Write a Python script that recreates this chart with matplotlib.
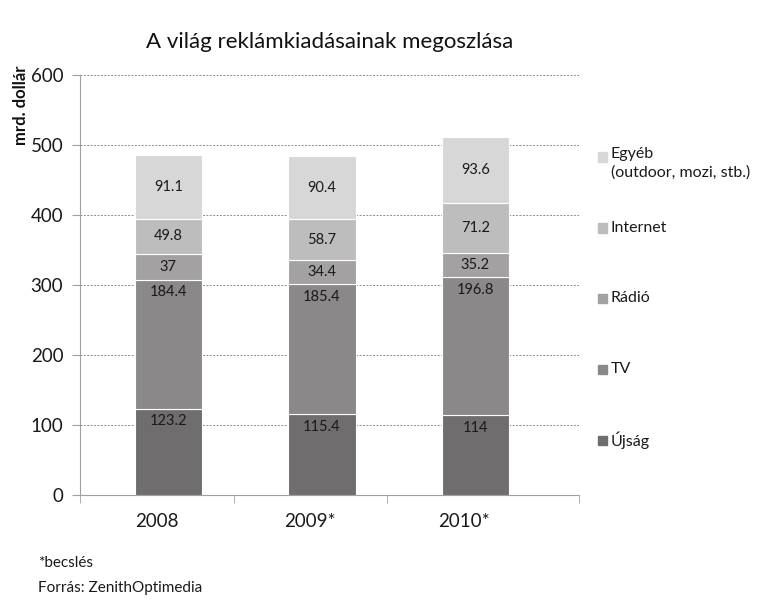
import numpy as np
import matplotlib
matplotlib.use("Agg")
import matplotlib.pyplot as plt

plt.rcParams['font.family'] = ['Lato', 'DejaVu Sans']

evek = ["2008", "2009*", "2010*"]
sorozatok = ["Újság", "TV", "Rádió", "Internet", "Egyéb\n(outdoor, mozi, stb.)"]
ujsag = [123.2, 115.4, 114]
tv = [184.4, 185.4, 196.8]
radio = [37, 34.4, 35.2]
internet = [49.8, 58.7, 71.2]
egyeb = [91.1, 90.4, 93.6]
ertekek = [ujsag, tv, radio, internet, egyeb]
szinek = ["#6f6d6d", "#8a8888", "#a3a1a1", "#bebdbd", "#d7d7d7"]

fig = plt.figure(figsize=(7.74, 5.99), dpi=100)
ax = fig.add_axes([80/774, 104/599, 499/774, 420/599])

x = np.arange(len(evek))
eltolas = 0.075
alap = np.zeros(len(evek))
for i, (nev, v) in enumerate(zip(sorozatok, ertekek)):
    v = np.array(v)
    ax.bar(x + eltolas, v, width=0.44, bottom=alap, color=szinek[i],
           edgecolor="white", linewidth=0.8, zorder=3)
    for xi, b, val in zip(x, alap, v):
        szoveg = f"{val:g}"
        if i < 2:
            ax.annotate(szoveg, (xi + eltolas, b + val), xytext=(0, -4),
                        textcoords="offset points", ha="center", va="top",
                        fontsize=10.5, color="#1a1a1a", zorder=4)
        else:
            ax.text(xi + eltolas, b + val / 2, szoveg, ha="center", va="center",
                    fontsize=10.5, color="#1a1a1a", zorder=4)
    alap = alap + v

ax.set_ylim(0, 600)
ax.set_yticks(np.arange(0, 601, 100))
ax.set_xlim(-0.5, 2.75)
ax.set_xticks(x)
ax.set_xticklabels(evek)
ax.set_xticks([-0.5, 0.5, 1.5, 2.75], minor=True)
ax.tick_params(axis="x", which="major", length=0, pad=13, labelsize=13.5, colors="#1a1a1a")
ax.tick_params(axis="x", which="minor", length=6, color="#a0a0a0", direction="out")
ax.tick_params(axis="y", length=6, color="#a0a0a0", labelsize=13.5, colors="#1a1a1a", pad=6)

ax.yaxis.grid(True, linestyle=(0, (2, 1.5)), color="#8c8c8c", linewidth=0.7, zorder=0)
for s in ["top", "right"]:
    ax.spines[s].set_visible(False)
ax.spines["left"].set_color("#a0a0a0")
ax.spines["bottom"].set_color("#a0a0a0")

fig.text(330/774, 1 - 42/599, "A világ reklámkiadásainak megoszlása",
         ha="center", va="center", fontsize=16, color="#111111")
fig.text(21/774, 1 - 105/599, "mrd. dollár", rotation=90, ha="center", va="center",
         fontsize=12, fontweight="bold", color="#111111")

# jelmagyarazat kezzel
leg_y = [440, 369, 298, 228, 157]
for i, nev in enumerate(sorozatok):
    yy = 1 - leg_y[i] / 599
    fig.patches.append(plt.Rectangle((598/774, yy - 4.5/599), 9/774, 9/599,
                                     transform=fig.transFigure, color=szinek[i]))
    fig.text(611/774, yy + 10/599 if "\n" in nev else yy, nev, ha="left", va="top" if "\n" in nev else "center",
             fontsize=11.5, color="#1a1a1a", linespacing=1.35)

fig.text(38/774, 1 - 563/599, "*becslés", ha="left", va="center", fontsize=11, color="#1a1a1a")
fig.text(38/774, 1 - 588/599, "Forrás: ZenithOptimedia", ha="left", va="center", fontsize=11, color="#1a1a1a")

fig.savefig("out.png", dpi=100)
